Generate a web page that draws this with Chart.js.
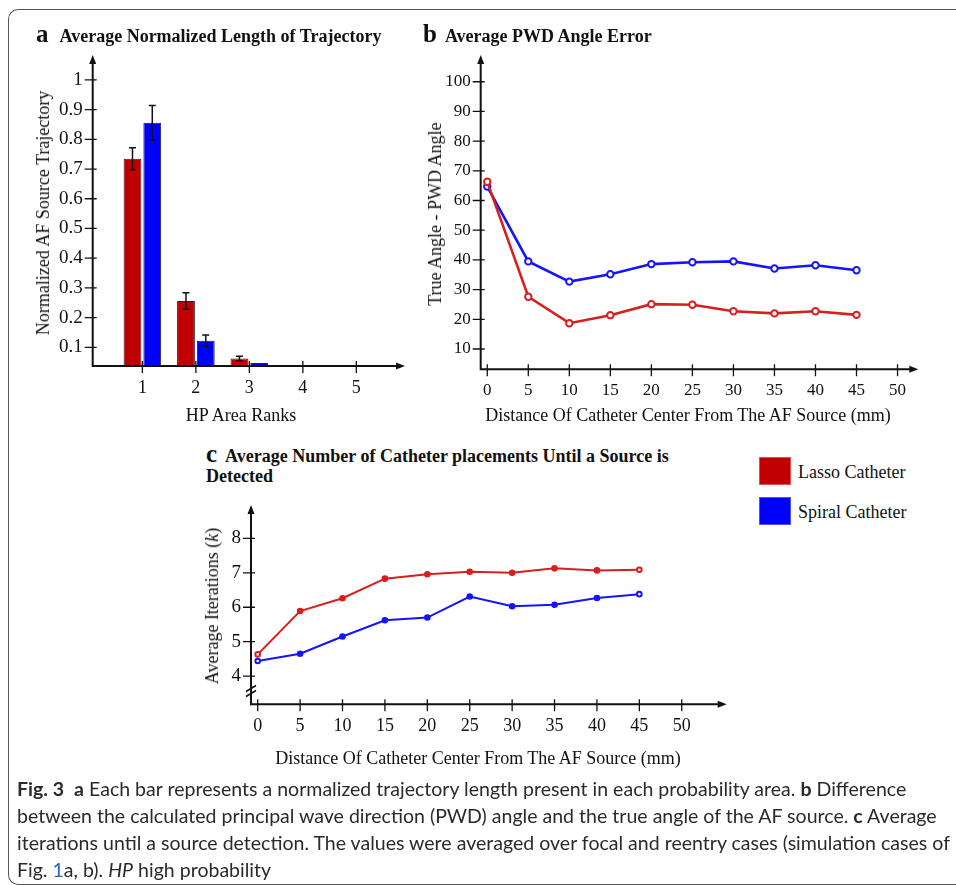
<!DOCTYPE html>
<html lang="en">
<head>
<meta charset="UTF-8">
<title>Fig. 3</title>
<style>
    html, body {
        margin: 0;
        overflow: hidden;
    }

    body {
        width: 956px;
        height: 885px;
        background: #fff;
        position: relative;
        font-family: "Liberation Serif", "Times New Roman", serif;
        color: #111;
    }

    .frame {
        position: absolute;
        left: 8px;
        top: 9px;
        width: 1200px;
        height: 874px;
        border: 1.5px solid #555;
        border-right: none;
        border-radius: 10px 0 0 10px;
    }

    canvas {
        position: absolute;
    }

    .txt {
        position: absolute;
        white-space: nowrap;
        line-height: 1;
        z-index: 2;
    }

    .center {
        transform: translate(-50%, -50%);
    }

    .rot {
        transform: translate(-50%, -50%) rotate(-90deg);
    }

    .axis-title {
        font-size: 18px;
    }

    .panel-title {
        font-size: 18px;
        font-weight: bold;
        line-height: 20px;
    }

    .panel-title .letter {
        font-size: 25px;
    }

    .legend-box {
        position: absolute;
        width: 30px;
        height: 26px;
    }

    .caption {
        position: absolute;
        left: 17px;
        top: 775px;
        font-family: Lato, "Open Sans", sans-serif;
        font-size: 19px;
        line-height: 27px;
        color: #2a2a2a;
        white-space: nowrap;
        transform-origin: 0 0;
    }

    .caption div {
        display: table;
    }
</style>
</head>
<body>
<div class="frame"></div>

<canvas id="chartA" style="left:0;top:40px" width="420" height="400"></canvas>
<canvas id="chartB" style="left:420px;top:40px" width="536" height="400"></canvas>
<canvas id="chartC" style="left:190px;top:490px" width="560" height="290"></canvas>

<div class="txt panel-title" style="left:36px;top:24px"><span class="letter" style="margin-right:11px">a</span>Average Normalized Length of Trajectory</div>
<div class="txt panel-title" style="left:423px;top:24px"><span class="letter" style="margin-right:8px">b</span>Average PWD Angle Error</div>
<div class="txt panel-title" style="left:206px;top:444px">
    <span class="letter" style="margin-right:8px">c</span>Average Number of Catheter placements Until a Source is<br>Detected
</div>

<div class="txt axis-title rot" style="left:43px;top:213px">Normalized AF Source Trajectory</div>
<div class="txt axis-title center" style="left:241px;top:415px">HP Area Ranks</div>
<div class="txt axis-title rot" style="left:435px;top:214px">True Angle - PWD Angle</div>
<div class="txt axis-title center" style="left:688px;top:415px">Distance Of Catheter Center From The AF Source (mm)</div>
<div class="txt axis-title rot" style="left:212px;top:606px">Average Iterations (<i>k</i>)</div>
<div class="txt axis-title center" style="left:478px;top:758px">Distance Of Catheter Center From The AF Source (mm)</div>

<div class="legend-box" style="left:759px;top:457px;background:#c00000;border:1px solid #e05050"></div>
<div class="txt axis-title" style="left:798px;top:463px">Lasso Catheter</div>
<div class="legend-box" style="left:759px;top:497px;background:#0000ff;border:1px solid #5050ff"></div>
<div class="txt axis-title" style="left:798px;top:503px">Spiral Catheter</div>

<div class="caption" id="caption">
    <div><b>Fig. 3</b>&nbsp; <b>a</b> Each bar represents a normalized trajectory length present in each probability area. <b>b</b> Difference</div>
    <div>between the calculated principal wave direction (PWD) angle and the true angle of the AF source. <b>c</b> Average</div>
    <div id="longLine">iterations until a source detection. The values were averaged over focal and reentry cases (simulation cases of</div>
    <div>Fig. <span style="color:#2a62c0">1</span>a, b). <i>HP</i> high probability</div>
</div>

<script src="https://cdn.jsdelivr.net/npm/chart.js"></script>
<script>
    // panel a: normalized trajectory length per HP area rank
    const ranks = [1, 2, 3, 4, 5];
    const lassoLength = [0.735, 0.256, 0.062, 0, 0];
    const lassoLengthErr = [0.037, 0.028, 0.008, 0, 0];
    const spiralLength = [0.856, 0.122, 0.047, 0, 0];
    const spiralLengthErr = [0.058, 0.019, 0, 0, 0];
    const lengthTicks = [0.1, 0.2, 0.3, 0.4, 0.5, 0.6, 0.7, 0.8, 0.9, 1];

    // panel b: PWD angle error vs distance
    const distances = [0, 5, 10, 15, 20, 25, 30, 35, 40, 45];
    const lassoAngle = [66.3, 27.6, 18.7, 21.4, 25.1, 24.9, 22.7, 22.0, 22.7, 21.5];
    const spiralAngle = [64.7, 39.5, 32.7, 35.2, 38.6, 39.2, 39.5, 37.1, 38.2, 36.5];
    const angleTicks = [10, 20, 30, 40, 50, 60, 70, 80, 90, 100];
    const distTicks = [0, 5, 10, 15, 20, 25, 30, 35, 40, 45, 50];

    // panel c: average iterations until detection
    const lassoIter = [4.63, 5.89, 6.26, 6.83, 6.96, 7.03, 7.0, 7.13, 7.07, 7.09];
    const spiralIter = [4.44, 4.65, 5.15, 5.62, 5.70, 6.31, 6.03, 6.07, 6.27, 6.38];
    const iterTicks = [4, 5, 6, 7, 8];
    const iterBreak = 3.58;

    const RED = '#c00000';
    const BLUE = '#0000ff';
    const LINE_RED = '#d81e1e';
    const LINE_BLUE = '#1414ff';
    const SERIF = '"Liberation Serif", "Times New Roman", serif';

    // squeeze the caption so its longest line fits the frame like the condensed original
    const caption = document.getElementById('caption');
    const longW = document.getElementById('longLine').getBoundingClientRect().width;
    caption.style.transform = 'scaleX(' + (933 / longW) + ')';

    Chart.defaults.font.family = SERIF;
    Chart.defaults.color = '#111';
    Chart.defaults.animation = false;
    Chart.defaults.plugins.legend.display = false;
    Chart.defaults.plugins.tooltip.enabled = false;

    const pts = (xs, ys) => xs.map((x, i) => ({ x: x, y: ys[i] }));

    // axis lines with arrow heads, ticks crossing the axis, optional break mark
    const arrowAxes = {
        id: 'arrowAxes',
        afterDraw(chart, args, opts) {
            const { ctx, chartArea: a, scales: { x, y } } = chart;
            ctx.save();
            ctx.strokeStyle = '#111';
            ctx.fillStyle = '#111';
            ctx.lineWidth = 2;
            ctx.beginPath();
            ctx.moveTo(a.left, a.top + 6);
            ctx.lineTo(a.left, a.bottom);
            ctx.lineTo(a.right - 6, a.bottom);
            ctx.stroke();
            ctx.beginPath();
            ctx.moveTo(a.left, a.top);
            ctx.lineTo(a.left - 3.5, a.top + 9);
            ctx.lineTo(a.left + 3.5, a.top + 9);
            ctx.closePath();
            ctx.fill();
            ctx.beginPath();
            ctx.moveTo(a.right, a.bottom);
            ctx.lineTo(a.right - 9, a.bottom - 3.5);
            ctx.lineTo(a.right - 9, a.bottom + 3.5);
            ctx.closePath();
            ctx.fill();

            ctx.lineWidth = 1.3;
            ctx.beginPath();
            y.ticks.forEach(t => {
                const p = y.getPixelForValue(t.value);
                ctx.moveTo(a.left - 8, p);
                ctx.lineTo(a.left + 4, p);
            });
            x.ticks.forEach(t => {
                const p = x.getPixelForValue(t.value);
                ctx.moveTo(p, a.bottom - 5);
                ctx.lineTo(p, a.bottom + 7);
            });
            ctx.stroke();

            if (opts.brk !== undefined) {
                const p = y.getPixelForValue(opts.brk);
                ctx.lineWidth = 1.6;
                ctx.beginPath();
                ctx.moveTo(a.left - 5, p + 1);
                ctx.lineTo(a.left + 5, p - 5);
                ctx.moveTo(a.left - 5, p + 6);
                ctx.lineTo(a.left + 5, p);
                ctx.stroke();
            }
            ctx.restore();
        }
    };

    const errorBars = {
        id: 'errorBars',
        afterDatasetsDraw(chart) {
            const { ctx, scales: { y } } = chart;
            ctx.save();
            ctx.strokeStyle = '#111';
            ctx.lineWidth = 1.5;
            chart.data.datasets.forEach((ds, i) => {
                const meta = chart.getDatasetMeta(i);
                meta.data.forEach((bar, j) => {
                    const e = ds.errors[j];
                    if (!e) return;
                    const v = ds.data[j].y;
                    const top = y.getPixelForValue(v + e);
                    const bot = y.getPixelForValue(v - e);
                    ctx.beginPath();
                    ctx.moveTo(bar.x, top);
                    ctx.lineTo(bar.x, bot);
                    ctx.moveTo(bar.x - 3.5, top);
                    ctx.lineTo(bar.x + 3.5, top);
                    ctx.moveTo(bar.x - 3.5, bot);
                    ctx.lineTo(bar.x + 3.5, bot);
                    ctx.stroke();
                });
            });
            ctx.restore();
        }
    };

    // fixed scale boxes, no label overflow padding, so plot areas sit where the figure has them
    function fixBox(s, key, size) {
        s[key] = size;
        s.paddingTop = 0;
        s.paddingBottom = 0;
        s.paddingLeft = 0;
        s.paddingRight = 0;
    }

    function axisX(min, max, ticks, height, size) {
        return {
            type: 'linear',
            min: min,
            max: max,
            offset: false,
            grid: { display: false, drawTicks: false },
            border: { display: false },
            afterBuildTicks: s => { s.ticks = ticks.map(v => ({ value: v })); },
            afterFit: s => fixBox(s, 'height', height),
            ticks: { padding: 11, maxRotation: 0, autoSkip: false, color: '#111', font: { family: SERIF, size: size } }
        };
    }

    function axisY(min, max, ticks, width, size) {
        return {
            min: min,
            max: max,
            grid: { display: false, drawTicks: false },
            border: { display: false },
            afterBuildTicks: s => { s.ticks = ticks.map(v => ({ value: v })); },
            afterFit: s => fixBox(s, 'width', width),
            ticks: { padding: 10, autoSkip: false, color: '#111', font: { family: SERIF, size: size }, callback: v => String(+v.toFixed(2)) }
        };
    }

    new Chart(document.getElementById('chartA'), {
        type: 'bar',
        data: {
            datasets: [{
                label: 'Lasso Catheter',
                data: pts(ranks, lassoLength),
                errors: lassoLengthErr,
                backgroundColor: RED,
                borderColor: '#3a1a1a',
                borderWidth: 1
            }, {
                label: 'Spiral Catheter',
                data: pts(ranks, spiralLength),
                errors: spiralLengthErr,
                backgroundColor: BLUE,
                borderColor: '#1a1a3a',
                borderWidth: 1
            }]
        },
        options: {
            responsive: false,
            categoryPercentage: 0.74,
            barPercentage: 0.9,
            layout: { autoPadding: false, padding: { left: 0, top: 15, right: 15, bottom: 0 } },
            scales: {
                x: axisX(0.071, 5.91, ranks, 74, 18),
                y: axisY(0.037, 1.084, lengthTicks, 92.7, 19)
            },
            plugins: { arrowAxes: {} }
        },
        plugins: [errorBars, arrowAxes]
    });

    function lineSet(label, xs, ys, color, width, radius, hollowEnds) {
        const last = xs.length - 1;
        return {
            label: label,
            data: pts(xs, ys),
            borderColor: color,
            borderWidth: width,
            pointRadius: radius,
            pointBorderWidth: 2,
            pointBorderColor: color,
            pointBackgroundColor: c => (!hollowEnds || c.dataIndex === 0 || c.dataIndex === last) ? '#fff' : color,
            tension: 0
        };
    }

    new Chart(document.getElementById('chartB'), {
        type: 'line',
        data: {
            datasets: [
                lineSet('Lasso Catheter', distances, lassoAngle, LINE_RED, 2.6, 3.2, false),
                lineSet('Spiral Catheter', distances, spiralAngle, LINE_BLUE, 2.6, 3.2, false)
            ]
        },
        options: {
            responsive: false,
            layout: { autoPadding: false, padding: { left: 0, top: 15, right: 37.7, bottom: 0 } },
            scales: {
                x: axisX(-0.8, 52.53, distTicks, 70.7, 17),
                y: axisY(3.17, 109, angleTicks, 60.7, 17)
            },
            plugins: { arrowAxes: {} }
        },
        plugins: [arrowAxes]
    });

    new Chart(document.getElementById('chartC'), {
        type: 'line',
        data: {
            datasets: [
                lineSet('Lasso Catheter', distances, lassoIter, LINE_RED, 2, 2.3, true),
                lineSet('Spiral Catheter', distances, spiralIter, LINE_BLUE, 2, 2.3, true)
            ]
        },
        options: {
            responsive: false,
            layout: { autoPadding: false, padding: { left: 0, top: 15, right: 23.3, bottom: 0 } },
            scales: {
                x: axisX(-0.79, 55.3, distTicks, 75.7, 18),
                y: axisY(3.18, 8.97, iterTicks, 61, 19)
            },
            plugins: { arrowAxes: { brk: iterBreak } }
        },
        plugins: [arrowAxes]
    });
</script>
</body>
</html>
